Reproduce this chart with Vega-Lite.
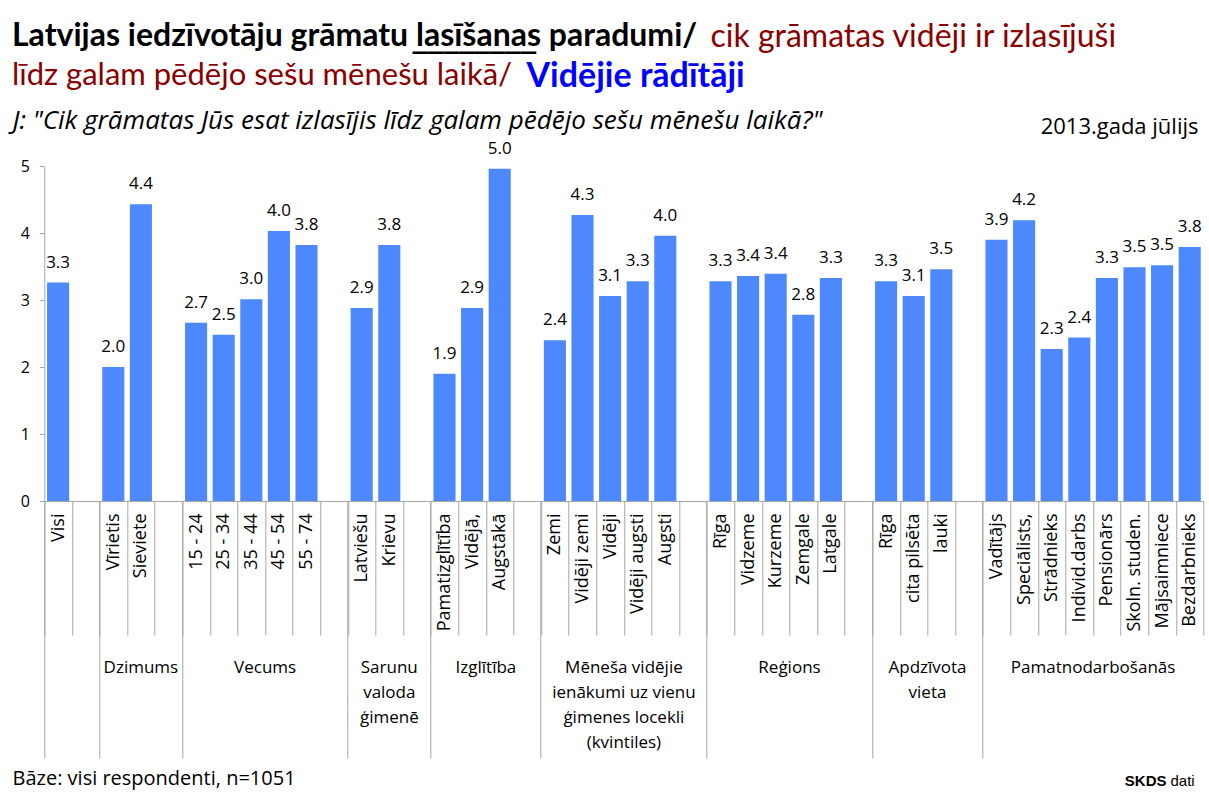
{
  "$schema": "https://vega.github.io/schema/vega-lite/v6.json",
  "width": 1159.2,
  "height": 335,
  "autosize": "none",
  "padding": {"left": 44.3, "top": 166, "right": 5.5, "bottom": 291},
  "background": "white",
  "config": {"view": {"stroke": null}, "axis": {"grid": false}, "font": "Open Sans"},
  "title": {
    "text": "Latvijas iedzīvotāju grāmatu lasīšanas paradumi/",
    "subtitle": "līdz galam pēdējo sešu mēnešu laikā/",
    "anchor": "start", "frame": "group", "dx": -32.3, "offset": -72,
    "font": "Lato", "fontSize": 32, "fontWeight": "bold", "color": "black",
    "subtitleFont": "Lato", "subtitleFontSize": 31, "subtitleColor": "#8b0000",
    "subtitleFontWeight": "normal", "subtitlePadding": 8
  },
  "datasets": {
    "main": [
      {"group": "Visi", "key": "Visi", "value": 3.26},
      {"group": "Dzimums", "key": "Vīrietis", "value": 2.0},
      {"group": "Dzimums", "key": "Sieviete", "value": 4.43},
      {"group": "Vecums", "key": "15 - 24", "value": 2.66},
      {"group": "Vecums", "key": "25 - 34", "value": 2.48},
      {"group": "Vecums", "key": "35 - 44", "value": 3.01},
      {"group": "Vecums", "key": "45 - 54", "value": 4.03},
      {"group": "Vecums", "key": "55 - 74", "value": 3.82},
      {"group": "Sarunu valoda ģimenē", "key": "Latviešu", "value": 2.88},
      {"group": "Sarunu valoda ģimenē", "key": "Krievu", "value": 3.82},
      {"group": "Izglītība", "key": "Pamatizglītība", "value": 1.9},
      {"group": "Izglītība", "key": "Vidējā,", "value": 2.88},
      {"group": "Izglītība", "key": "Augstākā", "value": 4.96},
      {"group": "Ienākumi", "key": "Zemi", "value": 2.4},
      {"group": "Ienākumi", "key": "Vidēji  zemi", "value": 4.27},
      {"group": "Ienākumi", "key": "Vidēji", "value": 3.06},
      {"group": "Ienākumi", "key": "Vidēji augsti", "value": 3.28},
      {"group": "Ienākumi", "key": "Augsti", "value": 3.96},
      {"group": "Reģions", "key": "Rīga", "value": 3.28},
      {"group": "Reģions", "key": "Vidzeme", "value": 3.36},
      {"group": "Reģions", "key": "Kurzeme", "value": 3.39},
      {"group": "Reģions", "key": "Zemgale", "value": 2.78},
      {"group": "Reģions", "key": "Latgale", "value": 3.33},
      {"group": "Apdzīvota vieta", "key": "Rīga|2", "value": 3.28},
      {"group": "Apdzīvota vieta", "key": "cita pilsēta", "value": 3.06},
      {"group": "Apdzīvota vieta", "key": "lauki", "value": 3.46},
      {"group": "Pamatnodarbošanās", "key": "Vadītājs", "value": 3.9},
      {"group": "Pamatnodarbošanās", "key": "Speciālists,", "value": 4.19},
      {"group": "Pamatnodarbošanās", "key": "Strādnieks", "value": 2.27},
      {"group": "Pamatnodarbošanās", "key": "Individ.darbs", "value": 2.44},
      {"group": "Pamatnodarbošanās", "key": "Pensionārs", "value": 3.33},
      {"group": "Pamatnodarbošanās", "key": "Skoln. studen.", "value": 3.49},
      {"group": "Pamatnodarbošanās", "key": "Mājsaimniece", "value": 3.52},
      {"group": "Pamatnodarbošanās", "key": "Bezdarbnieks", "value": 3.79}
    ],
    "oddGroups": [
      {"anchor": "Sieviete", "label": "Dzimums"},
      {"anchor": "Krievu", "label": "Sarunu\nvaloda\nģimenē"}
    ],
    "evenGroups": [
      {"anchor": "45 - 54", "label": "Vecums"},
      {"anchor": "Augstākā", "label": "Izglītība"},
      {"anchor": "Vidēji augsti", "label": "Mēneša vidējie\nienākumi uz vienu\nģimenes locekli\n(kvintiles)"},
      {"anchor": "Zemgale", "label": "Reģions"},
      {"anchor": "lauki", "label": "Apdzīvota\nvieta"},
      {"anchor": "Pensionārs", "label": "Pamatnodarbošanās"}
    ]
  },
  "resolve": {"axis": {"x": "independent", "y": "independent"}},
  "layer": [
    {
      "data": {"name": "main"},
      "mark": {"type": "bar", "width": {"band": 0.8}, "color": "#4d88ff"},
      "encoding": {
        "x": {
          "field": "key", "type": "nominal",
          "scale": {
            "domain": ["Visi", "|1", "Vīrietis", "Sieviete", "|2", "15 - 24", "25 - 34", "35 - 44", "45 - 54", "55 - 74", "|3", "Latviešu", "Krievu", "|4", "Pamatizglītība", "Vidējā,", "Augstākā", "|5", "Zemi", "Vidēji  zemi", "Vidēji", "Vidēji augsti", "Augsti", "|6", "Rīga", "Vidzeme", "Kurzeme", "Zemgale", "Latgale", "|7", "Rīga|2", "cita pilsēta", "lauki", "|8", "Vadītājs", "Speciālists,", "Strādnieks", "Individ.darbs", "Pensionārs", "Skoln. studen.", "Mājsaimniece", "Bezdarbnieks"],
            "paddingInner": 0, "paddingOuter": 0
          },
          "axis": {
            "orient": "bottom", "labelAngle": -90,
            "labelExpr": "isString(datum.value) ? split(datum.value, '|')[0] : ''",
            "tickBand": "extent", "tickSize": 134, "tickColor": "#a6a6a6", "domainColor": "#a6a6a6",
            "labelPadding": -122, "labelFont": "Open Sans", "labelFontSize": 18, "labelColor": "black",
            "labelOverlap": false, "labelBound": false, "labelLimit": 300,
            "title": "Bāze: visi respondenti, n=1051", "titleX": -32.3, "titleY": 283,
            "titleAlign": "left", "titleBaseline": "alphabetic", "titleAngle": 0,
            "titleFont": "Open Sans", "titleFontSize": 20, "titleFontWeight": "normal", "titleColor": "black"
          }
        },
        "y": {
          "field": "value", "type": "quantitative",
          "scale": {"domain": [0, 5], "nice": false},
          "axis": {
            "orient": "left", "values": [0, 1, 2, 3, 4, 5], "tickSize": 5,
            "tickColor": "#a6a6a6", "domainColor": "#a6a6a6",
            "labelFont": "Open Sans", "labelFontSize": 16, "labelColor": "black", "labelPadding": 10,
            "title": "J: \"Cik grāmatas Jūs esat izlasījis līdz galam pēdējo sešu mēnešu laikā?\"",
            "titleX": -32.3, "titleY": -38, "titleAngle": 0, "titleAlign": "left", "titleBaseline": "alphabetic",
            "titleFont": "Open Sans", "titleFontStyle": "italic", "titleFontWeight": "normal",
            "titleFontSize": 26, "titleColor": "black"
          }
        }
      }
    },
    {
      "data": {"name": "main"},
      "mark": {"type": "text", "dy": -15, "baseline": "alphabetic", "font": "Open Sans", "fontSize": 17, "color": "black"},
      "encoding": {
        "x": {
          "field": "key", "type": "nominal",
          "axis": {
            "orient": "bottom", "values": ["Visi", "Vīrietis", "15 - 24", "Latviešu", "Pamatizglītība", "Zemi", "Rīga", "Rīga|2", "Vadītājs"],
            "bandPosition": 0, "tickSize": 257, "tickColor": "#a6a6a6", "domain": false, "labels": false,
            "title": "SKDS", "titleX": 1121.7, "titleY": 284, "titleAlign": "right", "titleBaseline": "alphabetic", "titleAngle": 0,
            "titleFont": "Liberation Sans", "titleFontSize": 15, "titleFontWeight": "bold", "titleColor": "black"
          }
        },
        "y": {
          "field": "value", "type": "quantitative",
          "axis": {
            "orient": "left", "domain": false, "ticks": false, "labels": false,
            "title": "2013.gada jūlijs", "titleX": 1153.7, "titleY": -33, "titleAngle": 0, "titleAlign": "right", "titleBaseline": "alphabetic",
            "titleFont": "Open Sans", "titleFontSize": 22, "titleFontWeight": "normal", "titleColor": "black"
          }
        },
        "text": {"field": "value", "type": "quantitative", "format": ".1f"}
      }
    },
    {
      "data": {"name": "oddGroups"},
      "mark": {"type": "text", "baseline": "alphabetic", "align": "center", "dy": 172, "lineBreak": "\n", "lineHeight": 25, "font": "Open Sans", "fontSize": 17, "color": "black"},
      "encoding": {
        "x": {
          "field": "anchor", "type": "nominal",
          "axis": {
            "orient": "top", "domain": false, "ticks": false, "labels": false,
            "title": "cik grāmatas vidēji ir izlasījuši", "titleX": 665.7, "titleY": -120, "titleAlign": "left", "titleBaseline": "alphabetic", "titleAngle": 0,
            "titleFont": "Lato", "titleFontSize": 32, "titleFontWeight": "normal", "titleColor": "#8b0000"
          }
        },
        "y": {
          "datum": 0, "type": "quantitative",
          "axis": {
            "orient": "left", "domain": false, "ticks": false, "labels": false,
            "title": "Vidējie rādītāji", "titleX": 481.7, "titleY": -80, "titleAngle": 0, "titleAlign": "left", "titleBaseline": "alphabetic",
            "titleFont": "Lato", "titleFontSize": 34, "titleFontWeight": "bold", "titleColor": "#0000ff"
          }
        },
        "text": {"field": "label"}
      }
    },
    {
      "data": {"name": "evenGroups"},
      "mark": {"type": "text", "baseline": "alphabetic", "align": "center", "dy": 172, "lineBreak": "\n", "lineHeight": 25, "font": "Open Sans", "fontSize": 17, "color": "black"},
      "encoding": {
        "x": {
          "field": "anchor", "type": "nominal", "bandPosition": 0,
          "axis": {
            "orient": "top", "domain": false, "ticks": false, "labels": false,
            "title": "________", "titleX": 367.7, "titleY": -119, "titleAlign": "left", "titleBaseline": "alphabetic", "titleAngle": 0,
            "titleFont": "DejaVu Sans Mono", "titleFontSize": 25.7, "titleFontWeight": "bold", "titleColor": "black"
          }
        },
        "y": {
          "datum": 0, "type": "quantitative",
          "axis": {
            "orient": "left", "domain": false, "ticks": false, "labels": false,
            "title": "dati", "titleX": 1125.7, "titleY": 619, "titleAngle": 0, "titleAlign": "left", "titleBaseline": "alphabetic",
            "titleFont": "Liberation Sans", "titleFontSize": 15, "titleFontWeight": "normal", "titleColor": "black"
          }
        },
        "text": {"field": "label"}
      }
    }
  ]
}
